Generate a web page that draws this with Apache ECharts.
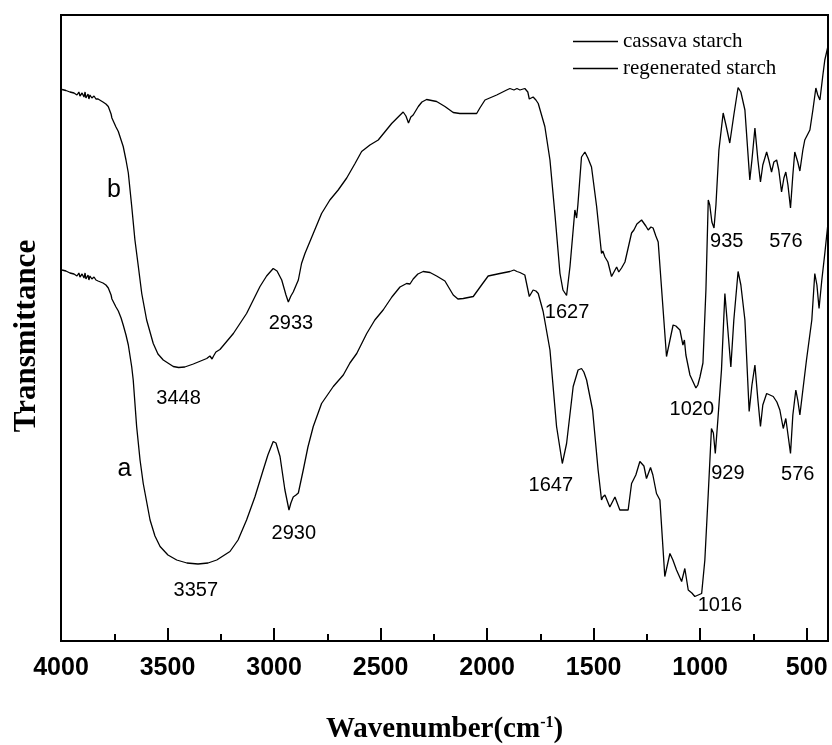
<!DOCTYPE html>
<html>
<head>
<meta charset="utf-8">
<script src="https://cdn.jsdelivr.net/npm/echarts@6/dist/echarts.min.js"></script>
<style>
html,body{margin:0;padding:0;background:#fff;}
#chart{width:832px;height:745px;}
</style>
</head>
<body>
<div id="chart"></div>
<script>
// FTIR spectra of native (a) and regenerated (b) cassava starch.
// Wavenumber in cm-1, transmittance in arbitrary units (curves are offset).

const wavenumberA = [3995,3977,3958,3939,3930,3925,3916,3911,3901,3892,
  3887,3883,3873,3869,3864,3855,3845,3836,3826,3817,
  3803,3789,3778,3765,3761,3755,3742,3731,3718,3708,
  3695,3684,3668,3661,3645,3629,3614,3582,3559,3535,
  3498,3457,3409,3357,3310,3269,3207,3169,3129,3090,
  3051,3029,3004,2991,2972,2949,2930,2921,2910,2897,
  2886,2863,2841,2816,2777,2722,2675,2644,2612,2565,
  2527,2488,2447,2409,2378,2369,2362,2347,2325,2300,
  2268,2237,2198,2159,2137,2112,2065,2026,1995,1940,
  1893,1874,1860,1846,1823,1802,1784,1771,1760,1737,
  1705,1674,1647,1627,1596,1573,1557,1546,1533,1505,
  1479,1463,1457,1447,1424,1400,1377,1338,1322,1302,
  1283,1264,1252,1233,1222,1205,1189,1166,1142,1128,
  1111,1087,1072,1056,1039,1025,1016,993,978,962,
  947,938,929,917,900,884,870,856,842,822,
  809,790,770,757,743,729,717,706,688,657,
  640,626,610,598,576,565,551,542,532,518,
  501,476,462,452,442,429,415,401];

const transmittanceA = [74.2,74,73.6,73.4,73.8,73,73.6,72.8,73.4,72.6,
  73.6,72.4,73.2,72.2,73,72.4,72.8,72.2,72,71.8,
  71.6,71.2,70.6,69.2,68.4,68.2,66.8,66,64.6,63.2,
  61.2,59.2,54.8,52.2,42.9,36.2,31.5,24.2,21,18.9,
  17.2,16.2,15.6,15.4,15.6,16.2,17.9,20.2,24.2,28.8,
  34.2,37.2,39.9,39.6,36.9,30.2,26.2,27.6,28.8,29.2,
  29.6,34.2,38.8,42.9,47.5,50.9,53.2,55.6,57.5,61.5,
  64.2,66.2,68.8,70.8,71.5,71.8,71.4,72.4,73.4,73.9,
  73.7,73,72,69.2,68.4,68.5,68.9,71.2,73,73.5,
  73.9,74.2,73.9,73.7,73.2,68.9,70.2,70,69.5,65.9,
  58.2,42.9,35.5,39.5,50.9,54.2,54.5,53.8,52.2,46.2,
  34.2,28.2,28.8,29.2,26.8,28.8,26.2,26.2,31.5,33.2,
  35.9,35,32.5,34.7,33.2,29.5,28.2,12.9,17.5,16.2,
  14.2,11.9,14.5,10.2,9.6,8.9,8.5,9.5,16.2,29.5,
  42.5,41.6,37.5,44.2,54.2,69.5,62.2,54.8,64.2,73.9,
  71.2,64.2,45.9,51.2,55.2,48.2,42.9,47.2,49.5,48.9,
  47.8,46.2,42.5,44.5,37.5,45.2,50.2,48.2,45.2,50.2,
  56.2,64.2,73.5,71.2,66.5,72.2,77.5,83.2];

const wavenumberB = [3995,3977,3958,3939,3930,3925,3916,3911,3901,3892,
  3887,3883,3873,3869,3864,3855,3845,3836,3826,3817,
  3803,3789,3778,3765,3761,3755,3742,3731,3718,3708,
  3695,3684,3668,3653,3637,3621,3598,3567,3545,3520,
  3473,3448,3419,3379,3316,3301,3291,3284,3273,3254,
  3191,3129,3066,3035,3004,2986,2964,2944,2933,2921,
  2910,2886,2871,2855,2816,2777,2738,2699,2659,2620,
  2589,2550,2511,2448,2394,2381,2369,2358,2347,2323,
  2306,2284,2237,2198,2159,2128,2049,2034,2010,1955,
  1908,1893,1874,1860,1846,1823,1809,1802,1784,1771,
  1760,1729,1705,1682,1658,1644,1627,1611,1588,1580,
  1574,1557,1541,1527,1510,1486,1463,1457,1447,1433,
  1416,1392,1382,1369,1353,1322,1311,1297,1275,1255,
  1244,1231,1221,1208,1197,1158,1127,1114,1095,1081,
  1074,1067,1048,1020,1011,1001,987,973,962,955,
  945,935,926,912,892,879,861,842,822,809,
  790,767,757,743,729,717,706,688,678,665,
  654,641,631,618,607,598,588,576,565,556,
  542,532,518,509,485,471,457,448,438,424,
  415,401];

const transmittanceB = [110.3,110.1,109.8,109.6,110,109.2,109.8,109,109.6,108.8,
  109.8,108.6,109.4,108.4,109.2,108.6,109,108.4,108.4,108,
  107.8,107.4,106.9,105.4,104.6,104.2,102.8,101.9,100.2,98.9,
  96.2,93.6,86.9,80.2,74.9,69.5,64.2,59.5,57.4,56.2,
  54.9,54.7,54.8,55.4,56.5,57,56.4,57,57.8,58.3,
  61.5,65.5,70.9,73,74.5,74,72.2,69.2,67.8,69,
  69.8,72.2,75.5,77.5,81.5,85.5,88.2,90.2,92.6,95.5,
  97.9,99.2,100.2,103.5,105.8,105,103.6,104.8,105.2,106.9,
  107.8,108.3,107.9,106.9,105.7,105.5,105.5,106.6,108.2,109.2,
  110.2,110.5,110.2,110.5,110.2,110.5,109.8,108.4,108.8,108.2,
  107.5,102.9,96.2,85.5,73.5,70.2,69.1,74.9,86.2,84.6,
  87.2,96.8,97.8,96.6,94.8,86.9,77.5,78,76.8,75.8,
  72.9,74.8,73.8,74.6,75.8,81.6,82.2,83.4,84.2,83,
  82.2,82.8,82.6,81,79.8,56.9,63.2,63,62.2,59.2,
  60.2,57.2,53.2,50.6,51.2,52.8,55.6,70.2,88.2,87.2,
  83.8,82.6,87.2,98.2,105.6,103.2,99.6,105.2,110.7,109.8,
  106.2,92.2,96.2,102.6,96.2,91.8,95.2,97.8,96.2,93.8,
  95.8,96.2,94.2,89.8,92.6,93.8,91.2,86.6,93.2,97.8,
  95.8,94,98.2,100.2,102.2,106.2,110.6,109.2,108.2,113.2,
  116.2,118.8];

const seriesNames = ['cassava starch', 'regenerated starch'];

// Axis ticks (cm-1)
const majorTicks = [4000, 3500, 3000, 2500, 2000, 1500, 1000, 500];
const minorTicks = [3750, 3250, 2750, 2250, 1750, 1250, 750];

// Band assignments written next to the spectra
const peakText = ['3448', '2933', '3357', '2930', '1627', '1647', '1020', '935', '576', '929', '576', '1016'];
const peakWavenumber = [3448, 2921, 3367, 2907, 1625, 1701, 1039, 875, 598, 870, 542, 907];
const peakTransmittance = [48.6, 63.6, 10.2, 21.6, 65.8, 31.2, 46.4, 80, 80, 33.6, 33.4, 7.2];

// Curve letters
const curveText = ['b', 'a'];
const curveWavenumber = [3751, 3702];
const curveTransmittance = [90.2, 34.4];

const zip = (xs, ys) => xs.map((x, i) => [x, ys[i]]);

const chart = echarts.init(document.getElementById('chart'), null, { renderer: 'canvas' });

const sansFont = "'Liberation Sans', Arial, sans-serif";
const serifFont = "'Liberation Serif', 'Times New Roman', serif";

const option = {
  animation: false,
  backgroundColor: '#ffffff',
  grid: {
    left: 61, right: 4, top: 15, bottom: 104,
    outerBoundsMode: 'none', containLabel: false,
    show: true, borderColor: '#000', borderWidth: 2, backgroundColor: 'transparent'
  },
  legend: {
    orient: 'vertical',
    left: 573, top: 31, padding: 0,
    itemWidth: 45, itemHeight: 1.5, itemGap: 6,
    icon: 'rect',
    data: seriesNames,
    textStyle: { color: '#000', fontFamily: serifFont, fontSize: 21 }
  },
  xAxis: [{
    type: 'value', inverse: true, min: 400, max: 4000,
    position: 'bottom',
    axisLine: { show: true, onZero: false, lineStyle: { color: '#000', width: 2 } },
    axisTick: { show: true, inside: true, length: 13, customValues: majorTicks,
      lineStyle: { color: '#000', width: 2 } },
    axisLabel: { show: true, customValues: majorTicks, margin: 15, color: '#000',
      formatter: v => String(v),
      fontFamily: sansFont, fontWeight: 'bold', fontSize: 25 },
    splitLine: { show: false },
    name: '{t|Wavenumber(cm}{s|-1}{t|)}',
    nameLocation: 'middle', nameGap: 74,
    nameTextStyle: {
      rich: {
        t: { fontFamily: serifFont, fontWeight: 'bold', fontSize: 29, color: '#000' },
        s: { fontFamily: serifFont, fontWeight: 'bold', fontSize: 16, color: '#000', verticalAlign: 'top' }
      }
    }
  }, {
    type: 'value', inverse: true, min: 400, max: 4000,
    position: 'bottom',
    axisLine: { show: false },
    axisTick: { show: true, inside: true, length: 7, customValues: minorTicks,
      lineStyle: { color: '#000', width: 2 } },
    axisLabel: { show: false },
    splitLine: { show: false }
  }],
  yAxis: {
    type: 'value', min: 0, max: 125.2,
    axisLine: { show: true, lineStyle: { color: '#000', width: 2 } },
    axisTick: { show: false },
    axisLabel: { show: false },
    splitLine: { show: false },
    name: 'Transmittance',
    nameLocation: 'middle', nameGap: 19,
    nameTextStyle: { fontFamily: serifFont, fontWeight: 'bold', fontSize: 31, color: '#000',
      padding: [0, 16, 0, 0] }
  },
  series: [{
    name: seriesNames[0],
    type: 'line', xAxisIndex: 0,
    data: zip(wavenumberA, transmittanceA),
    showSymbol: false, symbol: 'none',
    lineStyle: { color: '#000', width: 1.3 },
    itemStyle: { color: '#000' }
  }, {
    name: seriesNames[1],
    type: 'line', xAxisIndex: 0,
    data: zip(wavenumberB, transmittanceB),
    showSymbol: false, symbol: 'none',
    lineStyle: { color: '#000', width: 1.3 },
    itemStyle: { color: '#000' }
  }, {
    name: 'bands',
    type: 'scatter', xAxisIndex: 0,
    symbolSize: 0, silent: true,
    itemStyle: { opacity: 1, color: '#000' },
    data: peakText.map((t, i) => ({ name: t, value: [peakWavenumber[i], peakTransmittance[i]] }))
      .concat(curveText.map((t, i) => ({ name: t, value: [curveWavenumber[i], curveTransmittance[i]],
        label: { fontSize: 25 } }))),
    label: {
      show: true, position: 'inside', formatter: p => p.name, opacity: 1,
      color: '#000', fontFamily: sansFont, fontSize: 20
    }
  }]
};

chart.setOption(option);
</script>
</body>
</html>
